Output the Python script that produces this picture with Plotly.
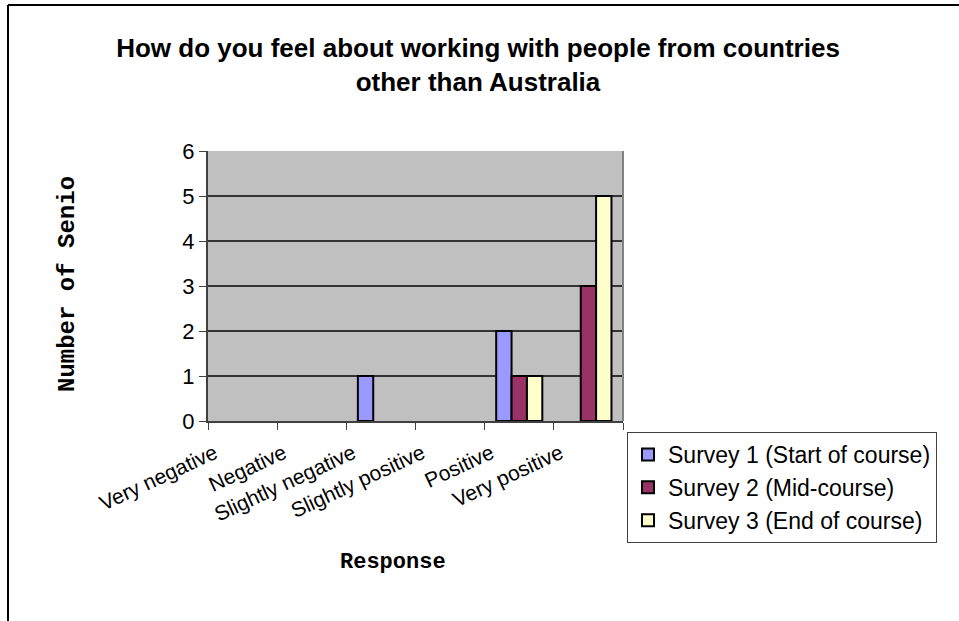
import plotly.graph_objects as go

categories = ["Very negative", "Negative", "Slightly negative", "Slightly positive", "Positive", "Very positive"]
survey1 = [0, 0, 1, 0, 2, 0]
survey2 = [0, 0, 0, 0, 1, 3]
survey3 = [0, 0, 0, 0, 1, 5]
series_names = ["Survey 1 (Start of course)", "Survey 2 (Mid-course)", "Survey 3 (End of course)"]
colors = ["#9999FF", "#993366", "#FFFFCC"]
title_text = "How do you feel about working with people from countries<br>other than Australia"
y_title = "Number of Senio"
x_title = "Response"

W, H = 959, 621
L, R, T, B = 208, 623, 151, 421
pw, ph = R - L, B - T

def px(x):
    return (x - L) / pw

def py(y):
    return (B - y) / ph

fig = go.Figure()
for name, vals, c in zip(series_names, [survey1, survey2, survey3], colors):
    # zero counts draw no bar (as in the reference)
    shown = [v if v != 0 else None for v in vals]
    fig.add_trace(go.Bar(x=categories, y=shown, name=name,
                         marker=dict(color=c, line=dict(color="black", width=2))))

fig.update_layout(
    width=W, height=H,
    margin=dict(l=L, r=W - R, t=T, b=H - B),
    paper_bgcolor="white",
    plot_bgcolor="#C0C0C0",
    barmode="group",
    bargap=1.5 / 4.5,
    bargroupgap=0,
    font=dict(family="Arial, Liberation Sans", color="black"),
    title=dict(text="<b>" + title_text + "</b>", x=px(478), xanchor="center",
               xref="paper", y=1 - 57 / H, yanchor="middle",
               font=dict(size=26, family="Arial, Liberation Sans", color="black")),
    showlegend=True,
    legend=dict(x=px(627), y=py(432), xanchor="left", yanchor="top",
                bordercolor="#404040", borderwidth=1, bgcolor="white",
                font=dict(size=23, family="Arial, Liberation Sans", color="black"),
                itemwidth=30, tracegroupgap=0),
    xaxis=dict(tickangle=-25, tickfont=dict(size=21), showline=True,
               linecolor="#404040", linewidth=2, ticks="outside", ticklen=7,
               tickcolor="#404040", showgrid=False, mirror=False,
               tickson="boundaries",
               ticklabelshift=-28, ticklabelstandoff=10),
    yaxis=dict(range=[0, 6], dtick=1, tickfont=dict(size=22), showline=True,
               linecolor="#404040", linewidth=2, ticks="outside", ticklen=7,
               tickcolor="#404040", gridcolor="#333333", gridwidth=1.5,
               zeroline=False),
    annotations=[
        dict(text="<b>" + y_title + "</b>", x=px(67), y=py(284), xref="paper", yref="paper",
             textangle=-90, showarrow=False, xanchor="center", yanchor="middle",
             font=dict(size=24, family="Courier New, Liberation Mono", color="black")),
        dict(text="<b>" + x_title + "</b>", x=px(393), y=py(562), xref="paper", yref="paper",
             showarrow=False, xanchor="center", yanchor="middle",
             font=dict(size=22, family="Courier New, Liberation Mono", color="black")),
    ],
    shapes=[
        dict(type="line", xref="paper", yref="paper", x0=px(8), x1=px(8), y0=py(5), y1=py(640),
             line=dict(color="black", width=2)),
        dict(type="line", xref="paper", yref="paper", x0=px(8), x1=px(970), y0=py(5), y1=py(5),
             line=dict(color="black", width=2)),
        dict(type="line", xref="paper", yref="paper", x0=1, x1=1, y0=0, y1=1,
             line=dict(color="#808080", width=2)),
    ],
)

fig.write_html("out.html", config={"displayModeBar": False},
               post_script="document.body.style.margin='0px';")
